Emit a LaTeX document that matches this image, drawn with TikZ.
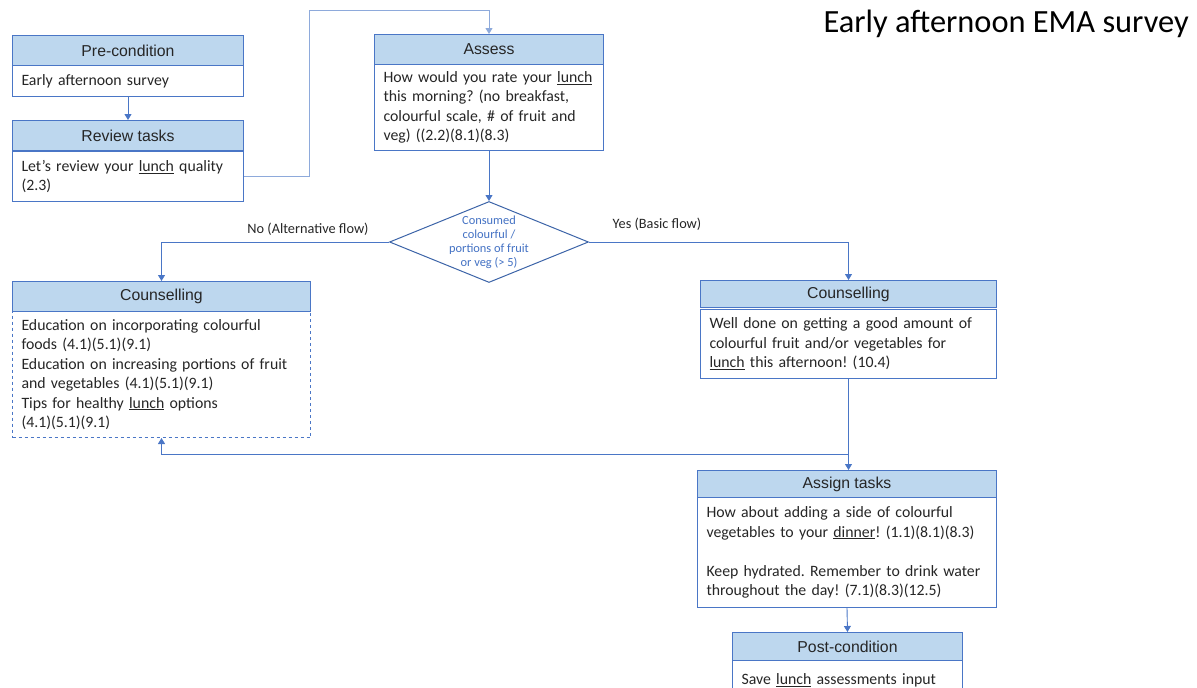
\documentclass[tikz,border=0pt]{standalone}
\usepackage{fontspec}
\setmainfont{Carlito}
\newfontfamily\hdrfont{Liberation Sans}
\usetikzlibrary{arrows.meta,shapes.geometric}
\definecolor{hdrfill}{HTML}{BDD7EE}
\definecolor{boxline}{HTML}{4A76C6}
\definecolor{paleline}{HTML}{8EAADB}
\definecolor{diaedge}{HTML}{3C64A8}
\definecolor{diatext}{HTML}{4472C4}
\definecolor{ink}{HTML}{262626}
\frenchspacing
\begin{document}
\begin{tikzpicture}[x=1pt,y=-1pt,
  hdr/.style={draw=boxline, line width=1pt, fill=hdrfill, inner sep=0pt,
    anchor=north west, text=ink, font=\hdrfont\fontsize{15.8}{18}\selectfont},
  bodybox/.style={draw=boxline, line width=1pt, fill=white, inner xsep=9pt, inner ysep=0pt,
    anchor=north west, align=left, text=ink,
    font=\fontsize{15.8}{19.5}\selectfont},
  conn/.style={draw=boxline, line width=0.9pt, -{Triangle[width=7pt,length=6pt]}},
  flowlabel/.style={text=ink, font=\fontsize{14.3}{16}\selectfont},
  dia/.style={diamond, draw=diaedge, line width=1pt, fill=white, inner sep=0pt,
    minimum width=199pt, minimum height=81pt},
  diatxt/.style={align=center, text=diatext, font=\fontsize{12.4}{14}\selectfont}
]
\useasboundingbox (0,0) rectangle (1197,688);

\node[anchor=west, text=black, font=\fontsize{32.4}{36}\selectfont] (title) at (820,24) {Early afternoon EMA survey};

% Pre-condition
\node[hdr, minimum width=231pt, minimum height=30pt] (pre) at (12,35) {Pre-condition};
\node[bodybox, text width=213pt, minimum height=31pt] (preb) at (12,65) {Early afternoon survey};

% Review tasks
\node[hdr, minimum width=231pt, minimum height=30pt] (rev) at (12,120) {Review tasks};
\node[bodybox, text width=213pt, minimum height=50pt] (revb) at (12,151) {Let’s review your \underline{lunch} quality\\(2.3)};

% Assess
\node[hdr, minimum width=229pt, minimum height=30pt] (ass) at (374,34) {Assess};
\node[bodybox, text width=211pt, minimum height=86pt] (assb) at (374,64) {How would you rate your \underline{lunch}\\this morning? (no breakfast,\\colourful scale, \# of fruit and\\veg) ((2.2)(8.1)(8.3)};

% Decision
\node[dia] (dec) at (489,242) {};
\node[diatxt] (dect) at (dec.center) {Consumed\\colourful /\\portions of fruit\\or veg (> 5)};

% Counselling (alternative flow)
\node[hdr, minimum width=298pt, minimum height=30pt] (cl) at (12,281) {Counselling};
\node[bodybox, dashed, text width=280pt, minimum height=126pt] (clb) at (12,311) {Education on incorporating colourful\\foods (4.1)(5.1)(9.1)\\Education on increasing portions of fruit\\and vegetables (4.1)(5.1)(9.1)\\Tips for healthy \underline{lunch} options\\(4.1)(5.1)(9.1)};

% Counselling (basic flow)
\node[hdr, minimum width=296pt, minimum height=27pt] (cr) at (700,280) {Counselling};
\node[bodybox, text width=278pt, minimum height=69pt] (crb) at (700,309) {Well done on getting a good amount of\\colourful fruit and/or vegetables for\\\underline{lunch} this afternoon! (10.4)};

% Assign tasks
\node[hdr, minimum width=299pt, minimum height=27pt] (at) at (697,470) {Assign tasks};
\node[bodybox, text width=281pt, minimum height=110pt] (atb) at (697,497) {How about adding a side of colourful\\vegetables to your \underline{dinner}! (1.1)(8.1)(8.3)\\[19.5pt]Keep hydrated. Remember to drink water\\throughout the day! (7.1)(8.3)(12.5)};

% Post-condition
\node[hdr, minimum width=230pt, minimum height=28pt] (post) at (732,632) {Post-condition};
\node[bodybox, text width=212pt, minimum height=40pt] (postb) at (732,660) {\vphantom{Sg}Save \underline{lunch} assessments input\\[0pt]};

% Connectors
\coordinate (topbend) at (309,10);
\coordinate (join) at (848,454);

\draw[conn] (preb.south) -- (rev.north);
\draw[conn, draw=paleline] (revb.east) -| (topbend) -| (ass.north);
\draw[conn] (assb.south) -- (dec.north);
\draw[conn] (dec.west) -| (cl.north);
\draw[conn] (dec.east) -| (cr.north);
\draw[conn] (crb.south) -- (crb.south |- at.north);
\draw[conn] (join -| crb.south) -| (clb.south);
\draw[conn] (atb.south) -- (post.north);

\node[flowlabel] (nolab) at (308,229) {No (Alternative flow)};
\node[flowlabel] (yeslab) at (657,224) {Yes (Basic flow)};
\end{tikzpicture}
\end{document}
